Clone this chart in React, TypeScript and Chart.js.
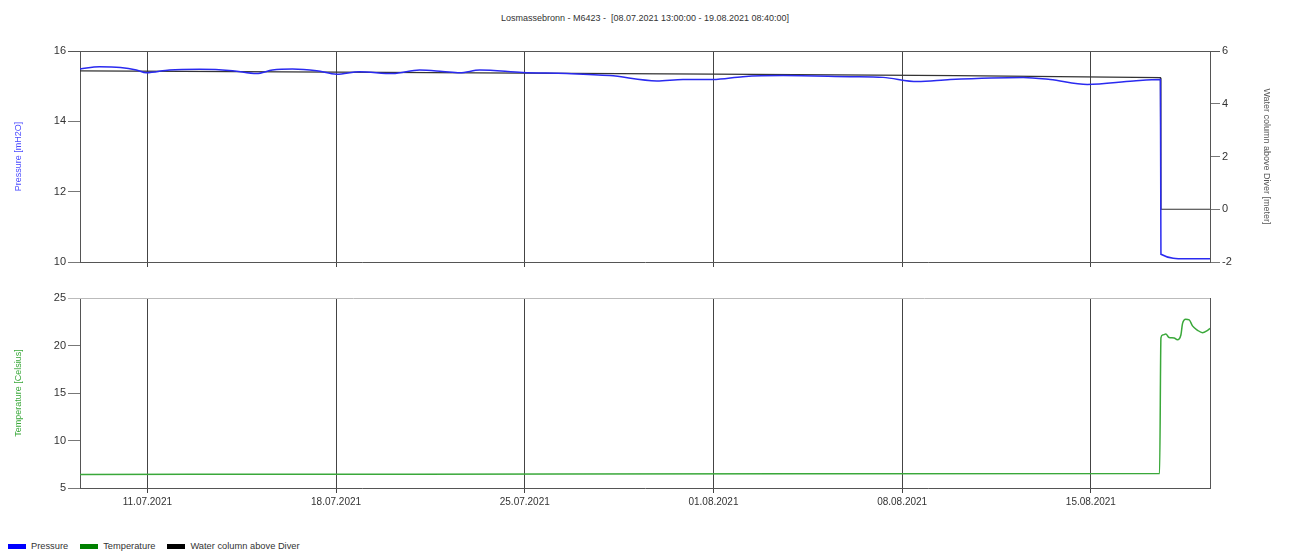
import React, { useEffect, useRef } from 'react';
import { Chart, registerables } from 'chart.js';

Chart.register(...registerables);

const FONT = "'Liberation Sans', Arial, sans-serif";

// x values: days since 01.07.2021 00:00
const X_MIN = 7.5;
const X_MAX = 49.42;

const dateTickDays = [10, 17, 24, 31, 38, 45];
const dateTickLabels = ['11.07.2021', '18.07.2021', '25.07.2021', '01.08.2021', '08.08.2021', '15.08.2021'];

const pressureDays = [7.5, 8.22, 9.0, 9.59, 9.96, 10.82, 11.93, 13.16, 14.05, 14.64, 15.38, 16.28, 17.02, 17.87, 19.1, 20.1, 20.95, 21.59, 22.33, 23.92, 25.56, 27.15, 28.9, 29.87, 30.98, 32.09, 33.58, 36.07, 37.29, 38.56, 39.78, 42.49, 43.49, 44.87, 46.58, 47.58, 47.6, 48.51, 49.42];
const pressureValues = [15.49, 15.55, 15.53, 15.46, 15.38, 15.46, 15.48, 15.44, 15.36, 15.46, 15.49, 15.44, 15.34, 15.41, 15.36, 15.46, 15.42, 15.38, 15.46, 15.39, 15.36, 15.3, 15.15, 15.19, 15.19, 15.27, 15.3, 15.27, 15.25, 15.13, 15.19, 15.25, 15.19, 15.05, 15.15, 15.19, 10.22, 10.09, 10.09];

const waterDays = [7.5, 17.0, 31.0, 40.0, 47.58, 47.6, 49.42];
const waterValues = [5.25, 5.2, 5.12, 5.07, 4.99, 0.0, 0.0];

const tempDays = [7.5, 20.0, 35.0, 47.55, 47.6, 47.66, 47.78, 47.9, 48.09, 48.21, 48.34, 48.4, 48.52, 48.65, 48.77, 48.96, 49.14, 49.33, 49.42];
const tempValues = [6.43, 6.46, 6.5, 6.52, 20.8, 21.1, 21.2, 20.85, 20.8, 20.6, 21.1, 22.3, 22.76, 22.7, 22.06, 21.6, 21.35, 21.6, 21.8];

const titleText = 'Losmassebronn - M6423 -  [08.07.2021 13:00:00 - 19.08.2021 08:40:00]';

const legendItems = [
  { label: 'Pressure', color: '#0000ff' },
  { label: 'Temperature', color: '#008000' },
  { label: 'Water column above Diver', color: '#000000' },
];

const zip = (xs: number[], ys: number[]) => xs.map((x, i) => ({ x, y: ys[i] }));

const framePlugin = {
  id: 'frame',
  afterDatasetsDraw(chart: any, _args: any, opts: any) {
    const { ctx, chartArea } = chart;
    const { left, right, top, bottom } = chartArea;
    ctx.save();
    ctx.lineWidth = 1;
    ctx.strokeStyle = opts.topColor || '#666';
    ctx.beginPath();
    ctx.moveTo(Math.round(left) - 12, Math.round(top) + 0.5);
    ctx.lineTo(Math.round(right) + (opts.rightExtend || 0), Math.round(top) + 0.5);
    ctx.stroke();
    if (opts.drawRight) {
      ctx.strokeStyle = opts.rightColor || '#555';
      ctx.beginPath();
      ctx.moveTo(Math.round(right) + 0.5, top);
      ctx.lineTo(Math.round(right) + 0.5, bottom);
      ctx.stroke();
    }
    ctx.restore();
  },
};

const xScaleBase = (showLabels: boolean, height: number) => ({
  type: 'linear' as const,
  min: X_MIN,
  max: X_MAX,
  afterBuildTicks: (s: any) => {
    s.ticks = dateTickDays.map((v) => ({ value: v }));
  },
  afterFit: (s: any) => {
    s.height = height;
  },
  ticks: {
    display: showLabels,
    autoSkip: false,
    maxRotation: 0,
    padding: 3,
    color: '#333',
    font: { family: FONT, size: 10 },
    callback: (v: any) => {
      const i = dateTickDays.indexOf(Number(v));
      return i >= 0 ? dateTickLabels[i] : '';
    },
  },
  grid: { color: '#444', lineWidth: 1, tickLength: 5, drawTicks: true },
  border: { color: '#555' },
});

export default function App() {
  const topRef = useRef<HTMLCanvasElement>(null);
  const botRef = useRef<HTMLCanvasElement>(null);

  useEffect(() => {
    document.body.style.margin = '0';
    const top = new Chart(topRef.current as HTMLCanvasElement, {
      type: 'line',
      data: {
        datasets: [
          {
            label: 'Pressure',
            data: zip(pressureDays, pressureValues),
            yAxisID: 'y',
            borderColor: '#2a2af0',
            borderWidth: 1.5,
            pointRadius: 0,
            tension: 0.4,
            cubicInterpolationMode: 'monotone',
          },
          {
            label: 'Water column above Diver',
            data: zip(waterDays, waterValues),
            yAxisID: 'y1',
            borderColor: '#333',
            borderWidth: 1.2,
            pointRadius: 0,
            tension: 0,
          },
        ],
      },
      options: {
        animation: false,
        responsive: true,
        maintainAspectRatio: false,
        layout: { padding: { top: 51, left: 0, right: 0, bottom: 0 } },
        plugins: {
          legend: { display: false },
          tooltip: { enabled: false },
          frame: { topColor: '#555', rightExtend: 10 },
        } as any,
        scales: {
          x: xScaleBase(false, 13) as any,
          y: {
            position: 'left',
            min: 10,
            max: 16,
            afterFit: (s: any) => {
              s.width = 80;
            },
            ticks: { stepSize: 2, padding: 2, color: '#333', font: { family: FONT, size: 11 } },
            grid: { drawOnChartArea: false, tickLength: 12, color: '#777' },
            border: { color: '#555' },
            title: {
              display: true,
              text: 'Pressure [mH2O]',
              color: '#4a4aff',
              font: { family: FONT, size: 9 },
              padding: { top: 13, bottom: 0 },
            },
          },
          y1: {
            position: 'right',
            min: -2,
            max: 6,
            afterFit: (s: any) => {
              s.width = 80;
            },
            ticks: { stepSize: 2, padding: 2, color: '#333', font: { family: FONT, size: 11 } },
            grid: { drawOnChartArea: false, tickLength: 10, color: '#777' },
            border: { color: '#555' },
            title: {
              display: true,
              text: 'Water column above Diver [meter]',
              color: '#555',
              font: { family: FONT, size: 9 },
              padding: { top: 18, bottom: 0 },
            },
          },
        },
      },
      plugins: [framePlugin],
    });

    const bot = new Chart(botRef.current as HTMLCanvasElement, {
      type: 'line',
      data: {
        datasets: [
          {
            label: 'Temperature',
            data: zip(tempDays, tempValues),
            yAxisID: 'y',
            borderColor: '#3aa83a',
            borderWidth: 1.5,
            pointRadius: 0,
            tension: 0.4,
            cubicInterpolationMode: 'monotone',
          },
        ],
      },
      options: {
        animation: false,
        responsive: true,
        maintainAspectRatio: false,
        layout: { padding: { top: 18, left: 0, right: 80, bottom: 0 } },
        plugins: {
          legend: { display: false },
          tooltip: { enabled: false },
          frame: { topColor: '#bbb', drawRight: true, rightColor: '#555' },
        } as any,
        scales: {
          x: xScaleBase(true, 32) as any,
          y: {
            position: 'left',
            min: 5,
            max: 25,
            afterFit: (s: any) => {
              s.width = 80;
            },
            ticks: { stepSize: 5, padding: 2, color: '#333', font: { family: FONT, size: 11 } },
            grid: { drawOnChartArea: false, tickLength: 12, color: '#777' },
            border: { color: '#555' },
            title: {
              display: true,
              text: 'Temperature [Celsius]',
              color: '#3aa83a',
              font: { family: FONT, size: 9 },
              padding: { top: 13, bottom: 0 },
            },
          },
        },
      },
      plugins: [framePlugin],
    });

    return () => {
      top.destroy();
      bot.destroy();
    };
  }, []);

  return (
    <div style={{ position: 'absolute', left: 0, top: 0, width: 1290, height: 552, background: '#fff', fontFamily: FONT, overflow: 'hidden' }}>
      <div style={{ position: 'absolute', left: 0, top: 12, width: 1290, textAlign: 'center', fontSize: 9, lineHeight: '12px', color: '#333', whiteSpace: 'pre' }}>
        {titleText}
      </div>
      <div style={{ position: 'absolute', left: 0, top: 0, width: 1290, height: 275 }}>
        <canvas ref={topRef} />
      </div>
      <div style={{ position: 'absolute', left: 0, top: 280, width: 1290, height: 240 }}>
        <canvas ref={botRef} />
      </div>
      <div style={{ position: 'absolute', left: 8, top: 540, height: 12, display: 'flex', alignItems: 'center', fontSize: 9.3, color: '#333' }}>
        {legendItems.map((it) => (
          <div key={it.label} style={{ display: 'flex', alignItems: 'center', marginRight: 12 }}>
            <span style={{ display: 'inline-block', width: 18, height: 5, background: it.color, marginRight: 5 }} />
            <span>{it.label}</span>
          </div>
        ))}
      </div>
    </div>
  );
}
